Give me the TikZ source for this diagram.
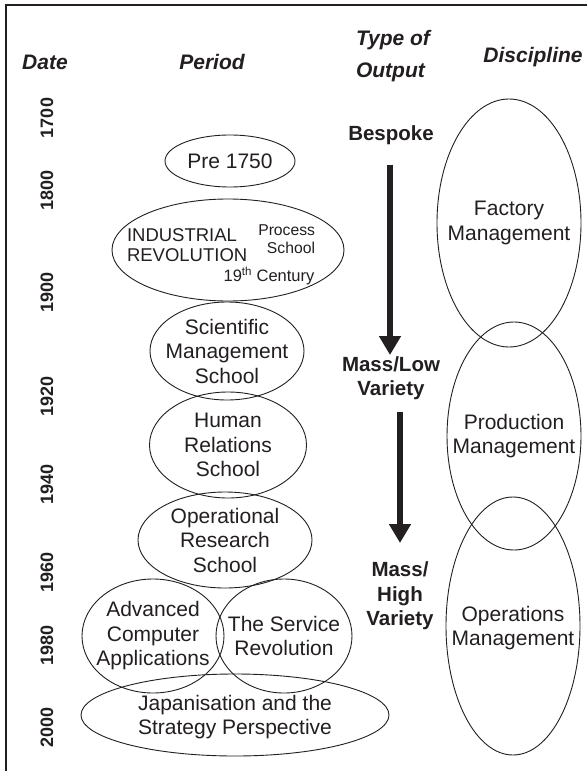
\documentclass[tikz,border=0pt]{standalone}
\usepackage{fontspec}
\setmainfont{Liberation Sans}
\usetikzlibrary{shapes.geometric,arrows.meta}
\definecolor{ink}{RGB}{35,31,32}
\begin{document}
\begin{tikzpicture}[x=1pt,y=-1pt,
  every node/.style={text=ink, inner sep=0pt, outer sep=0pt},
  oval/.style={draw=ink, line width=0.9pt, ellipse, inner sep=0pt},
  body/.style={font=\fontsize{21}{24.5}\selectfont, align=center},
  small/.style={font=\fontsize{18.5}{19.5}\selectfont, align=left},
  tiny/.style={font=\fontsize{15.7}{18.5}\selectfont, align=right},
  head/.style={font=\fontsize{21}{32}\selectfont\bfseries\itshape, align=left},
  outp/.style={font=\fontsize{20.5}{24.5}\selectfont\bfseries, align=center},
  yr/.style={font=\fontsize{18}{18}\selectfont\bfseries, rotate=90},
  bigarrow/.style={draw=ink, line width=6.5pt, -{Triangle[width=21pt,length=19pt]}},
]
\useasboundingbox (0,0) rectangle (587,771);
\fill[white] (0,0) rectangle (587,771);
% frame
\draw[ink, line width=1.3pt] (587,5) -- (6,5) -- (6,771);

% headers
\node[head] (hdate) at (45,62) {Date};
\node[head] (hperiod) at (212,62) {Period};
\node[head] (houtput) at (393,56) {Type of\\Output};
\node[head] (hdisc) at (533,57) {Discipline};

% dates
\node[yr] (d1700) at (47,118) {1700};
\node[yr] (d1800) at (47,190) {1800};
\node[yr] (d1900) at (47,292) {1900};
\node[yr] (d1920) at (47,396) {1920};
\node[yr] (d1940) at (47,484) {1940};
\node[yr] (d1960) at (47,572) {1960};
\node[yr] (d1980) at (47,645) {1980};
\node[yr] (d2000) at (47,727) {2000};

% period ellipses
\node[oval, minimum width=130pt, minimum height=52pt] (pre) at (230,161) {};
\node[body] at (pre.center) {Pre 1750};

\node[oval, minimum width=232pt, minimum height=102pt] (ind) at (228,250) {};
\node[small, anchor=west] (indt) at (127,245) {INDUSTRIAL\\REVOLUTION};
\node[tiny, anchor=east] (proc) at (315,239) {Process\\School};
\node[font=\fontsize{16.5}{18}\selectfont] (cent) at (269,276) {19\textsuperscript{th} Century};

\node[oval, minimum width=154pt, minimum height=98pt] (sci) at (227,351) {};
\node[body] at (sci.center) {Scientific\\Management\\School};

\node[oval, minimum width=157pt, minimum height=106pt] (hum) at (228,445) {};
\node[body] at (hum.center) {Human\\Relations\\School};

\node[oval, minimum width=174pt, minimum height=96pt] (opr) at (225,540) {};
\node[body] at (opr.center) {Operational\\Research\\School};

\node[oval, minimum width=142pt, minimum height=114pt] (adv) at (153,636) {};
\node[body] at (adv.center) {Advanced\\Computer\\Applications};

\node[oval, minimum width=136pt, minimum height=114pt] (serv) at (284,636) {};
\node[body] at (serv.center) {The Service\\Revolution};

\node[oval, minimum width=308pt, minimum height=82pt] (jap) at (235,715) {};
\node[body] at ([yshift=-2pt]jap.center) {Japanisation and the\\Strategy Perspective};

% type of output
\node[outp] (bes) at (391,135) {Bespoke};
\node[outp] (mlv) at (391,378) {Mass/Low\\Variety};
\node[outp] (mhv) at (400,596) {Mass/\\High\\Variety};
\draw[bigarrow] (bes.south -| 390,0) ++(0,20) -- (390,355);
\draw[bigarrow] (mlv.south -| 400,0) ++(0,12) -- (400,543);

% discipline ellipses
\node[oval, minimum width=144pt, minimum height=248pt] (fac) at (509,223) {};
\node[body] at (fac.center) {Factory\\Management};
\node[oval, minimum width=134pt, minimum height=228pt] (prod) at (514,436) {};
\node[body] at (prod.center) {Production\\Management};
\node[oval, minimum width=134pt, minimum height=258pt] (ops) at (513,626) {};
\node[body] at ([yshift=-2pt]ops.center) {Operations\\Management};
\end{tikzpicture}
\end{document}
